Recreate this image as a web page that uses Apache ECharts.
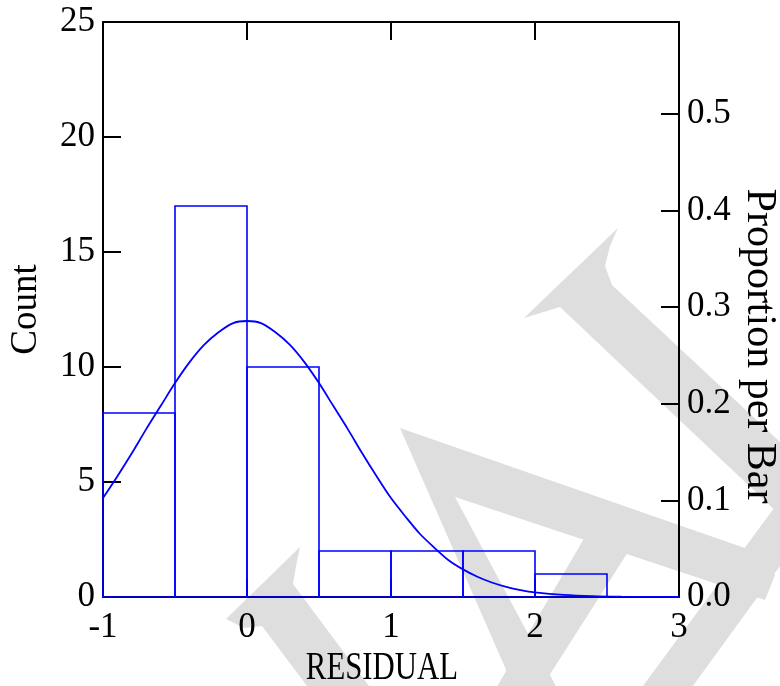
<!DOCTYPE html>
<html>
<head>
<meta charset="utf-8">
<script src="https://cdn.jsdelivr.net/npm/echarts@6/dist/echarts.min.js"></script>
<style>
  html, body { margin: 0; padding: 0; background: #ffffff; }
  #chart { width: 780px; height: 686px; }
</style>
</head>
<body>
<div id="chart"></div>
<script>
// ---- data ----
const binStarts = [-1, -0.5, 0, 0.5, 1, 1.5, 2];
const binEnds   = [-0.5, 0, 0.5, 1, 1.5, 2, 2.5];
const counts    = [8, 17, 10, 2, 2, 2, 1];

const curveX = [-1, -0.9, -0.8, -0.7, -0.6, -0.5, -0.4, -0.3, -0.2, -0.1, 0,
                0.1, 0.2, 0.3, 0.4, 0.5, 0.6, 0.7, 0.8, 0.9, 1.0,
                1.1, 1.2, 1.3, 1.4, 1.5, 1.6, 1.7, 1.8, 1.9, 2.0,
                2.2, 2.4, 2.6, 2.8, 3.0];
const curveY = [4.3, 5.25, 6.25, 7.3, 8.3, 9.3, 10.2, 10.95, 11.5, 11.9, 12.0,
                11.9, 11.5, 10.95, 10.2, 9.3, 8.3, 7.3, 6.25, 5.25, 4.3,
                3.5, 2.75, 2.15, 1.6, 1.2, 0.88, 0.63, 0.44, 0.3, 0.2,
                0.09, 0.035, 0.012, 0.004, 0.001];

const xTicks = [-1, 0, 1, 2, 3];
const countTicks = [0, 5, 10, 15, 20, 25];
const propTicks = ['0.0', '0.1', '0.2', '0.3', '0.4', '0.5'];

const xTitle = 'RESIDUAL';
const leftTitle = 'Count';
const rightTitle = 'Proportion per Bar';

// ---- chart ----
const total = counts.reduce((a, b) => a + b, 0);
const FONT = 'Liberation Serif';
const BLUE = '#0000ff';
const WM = '#dedede';

const chart = echarts.init(document.getElementById('chart'), null, { renderer: 'canvas' });

const axisLineStyle = { color: '#000', width: 2 };
const tickStyle = { show: true, inside: true, length: 18, lineStyle: { color: '#000', width: 2 } };
const labelStyle = { fontFamily: FONT, fontSize: 35, color: '#000' };

const xMin = xTicks[0], xMax = xTicks[xTicks.length - 1];
const cMax = countTicks[countTicks.length - 1];

// background watermark (decoration, not data)
const wmShapes = [
  [[226,619],[300,547],[296,566],[293,584],[372,690],[310,690],[262,626],[244,628]],
  [[524,318],[618,228],[610,246],[605,266],[612,285],[780,442],[780,515],[560,307]],
  [[640,690],[690,690],[780,566],[780,500]],
  [[515,690],[400,428],[765,555],[775,575],[765,600],[455,497],[558,690]],
  [[495,690],[540,690],[628,552],[585,537]]
];

const option = {
  backgroundColor: '#ffffff',
  animation: false,
  grid: { left: 103, right: 101, top: 22, bottom: 89, containLabel: false },
  graphic: [
    ...wmShapes.map(pts => ({
      type: 'polygon', silent: true, z: -1,
      shape: { points: pts },
      style: { fill: WM }
    })),
    {
      type: 'text', x: 759, y: 346, rotation: -Math.PI / 2, silent: true,
      style: { text: rightTitle, fontFamily: FONT, fontSize: 42, fill: '#000',
               align: 'center', verticalAlign: 'middle' }
    },
    {
      type: 'text', x: 382, y: 668, scaleX: 0.77, silent: true,
      style: { text: xTitle, fontFamily: FONT, fontSize: 40, fill: '#000',
               align: 'center', verticalAlign: 'middle' }
    }
  ],
  xAxis: [
    {
      type: 'value', position: 'bottom', min: xMin, max: xMax, interval: 1,
      axisLine: { show: true, onZero: false, lineStyle: axisLineStyle },
      axisTick: tickStyle,
      axisLabel: Object.assign({ margin: 13 }, labelStyle),
      splitLine: { show: false }
    },
    {
      type: 'value', position: 'top', min: xMin, max: xMax, interval: 1,
      axisLine: { show: true, onZero: false, lineStyle: axisLineStyle },
      axisTick: tickStyle,
      axisLabel: { show: false },
      splitLine: { show: false }
    }
  ],
  yAxis: [
    {
      type: 'value', position: 'left', min: 0, max: cMax, interval: 5,
      axisLine: { show: true, onZero: false, lineStyle: axisLineStyle },
      axisTick: tickStyle,
      axisLabel: Object.assign({ margin: 8 }, labelStyle),
      splitLine: { show: false },
      name: leftTitle, nameLocation: 'middle', nameGap: 58,
      nameTextStyle: { fontFamily: FONT, fontSize: 37, color: '#000' }
    },
    {
      type: 'value', position: 'right', min: 0, max: cMax / total, interval: 0.1,
      axisLine: { show: true, onZero: false, lineStyle: axisLineStyle },
      axisTick: tickStyle,
      axisLabel: Object.assign({
        margin: 8,
        formatter: function (v) {
          const idx = Math.round(v * 10);
          return (Math.abs(v * 10 - idx) < 1e-6 && idx < propTicks.length) ? propTicks[idx] : '';
        }
      }, labelStyle),
      splitLine: { show: false }
    }
  ],
  series: [
    {
      type: 'custom',
      xAxisIndex: 0, yAxisIndex: 0,
      data: binStarts.map((s, i) => [s, binEnds[i], counts[i]]),
      encode: { x: [0, 1], y: 2 },
      renderItem: function (params, api) {
        const p0 = api.coord([api.value(0), api.value(2)]);
        const p1 = api.coord([api.value(1), 0]);
        return {
          type: 'rect',
          shape: { x: p0[0], y: p0[1], width: p1[0] - p0[0], height: p1[1] - p0[1] },
          style: { fill: 'none', stroke: BLUE, lineWidth: 1.6 }
        };
      },
      z: 2
    },
    {
      type: 'line',
      xAxisIndex: 0, yAxisIndex: 0,
      data: curveX.map((x, i) => [x, curveY[i]]),
      showSymbol: false, symbol: 'none',
      smooth: 0.3,
      lineStyle: { color: BLUE, width: 1.8 },
      z: 3
    }
  ]
};

chart.setOption(option);
</script>
</body>
</html>
